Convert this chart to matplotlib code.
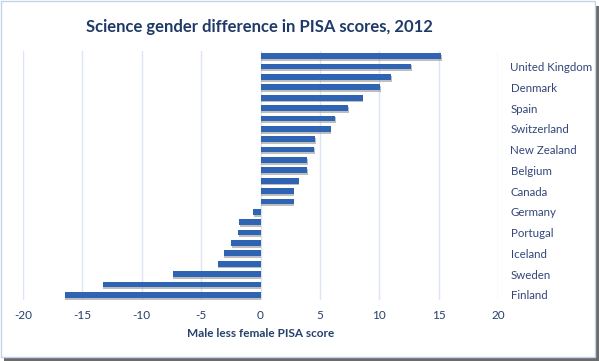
import matplotlib
matplotlib.use('Agg')
import matplotlib.pyplot as plt
import matplotlib.patheffects as pe
from matplotlib.patches import Rectangle

# bottom to top, as in the spreadsheet (only every other name is shown)
countries = ['Finland', '', 'Sweden', '', 'Iceland', '', 'Portugal', '',
             'Germany', '', 'Canada', '', 'Belgium', '', 'New Zealand', '',
             'Switzerland', '', 'Spain', '', 'Denmark', '', 'United Kingdom', '']
diff = [-16.5, -13.3, -7.4, -3.6, -3.1, -2.5, -1.9, -1.8,
        -0.6, 2.8, 2.8, 3.2, 3.9, 3.9, 4.5, 4.6,
        5.9, 6.3, 7.4, 8.6, 10.1, 11.0, 12.7, 15.2]
xticks = [-20, -15, -10, -5, 0, 5, 10, 15, 20]

W, H = 599, 361
fig = plt.figure(figsize=(W / 100, H / 100), dpi=100)
fig.patch.set_facecolor('white')

# frame with shadow like the screenshot
fig.patches.append(Rectangle((4 / W, 0), 1 - 4 / W, 1 - 6 / H, transform=fig.transFigure,
                             facecolor='#6b6b6b', edgecolor='none', zorder=-2))
fig.patches.append(Rectangle((1 / W, 4 / H), 1 - 5 / W, 1 - 5 / H, transform=fig.transFigure,
                             facecolor='white', edgecolor='#c5d3e8', lw=1, zorder=-1))

ax = fig.add_axes([23 / W, 1 - 300 / H, 475 / W, 249 / H])
ax.set_facecolor('none')
ypos = list(range(len(diff)))
ax.barh(ypos, diff, height=0.56, color='#2f64b3', zorder=3,
        path_effects=[pe.withSimplePatchShadow(offset=(0.5, -1.3), shadow_rgbFace='#8a8a8a', alpha=0.55)])

ax.set_xlim(-20, 20)
ax.set_ylim(-0.5, len(diff) - 0.5)
ax.set_xticks(xticks)
ax.set_xticklabels([str(t) for t in xticks])
for t in xticks:
    ax.axvline(t, color='#dbe5f3', lw=1, zorder=1)

ax.yaxis.tick_right()
ax.set_yticks(ypos[::2])
ax.set_yticklabels(countries[::2])
ax.tick_params(axis='y', length=0, pad=9, labelsize=8.3, labelcolor='#34467a')
ax.tick_params(axis='x', length=0, pad=7, labelsize=8.5, labelcolor='#24406b')
for lab in ax.get_xticklabels() + ax.get_yticklabels():
    lab.set_fontfamily('Lato')
for s in ax.spines.values():
    s.set_visible(False)

ax.set_xlabel('Male less female PISA score', fontsize=8.5, fontweight='bold',
              color='#24406b', family='Lato', labelpad=5)
fig.text(259 / W, 1 - 27 / H, 'Science gender difference in PISA scores, 2012',
         ha='center', va='center', fontsize=12, fontweight='bold',
         color='#1f3a68', family='Lato')

fig.savefig('out.png', dpi=100)
